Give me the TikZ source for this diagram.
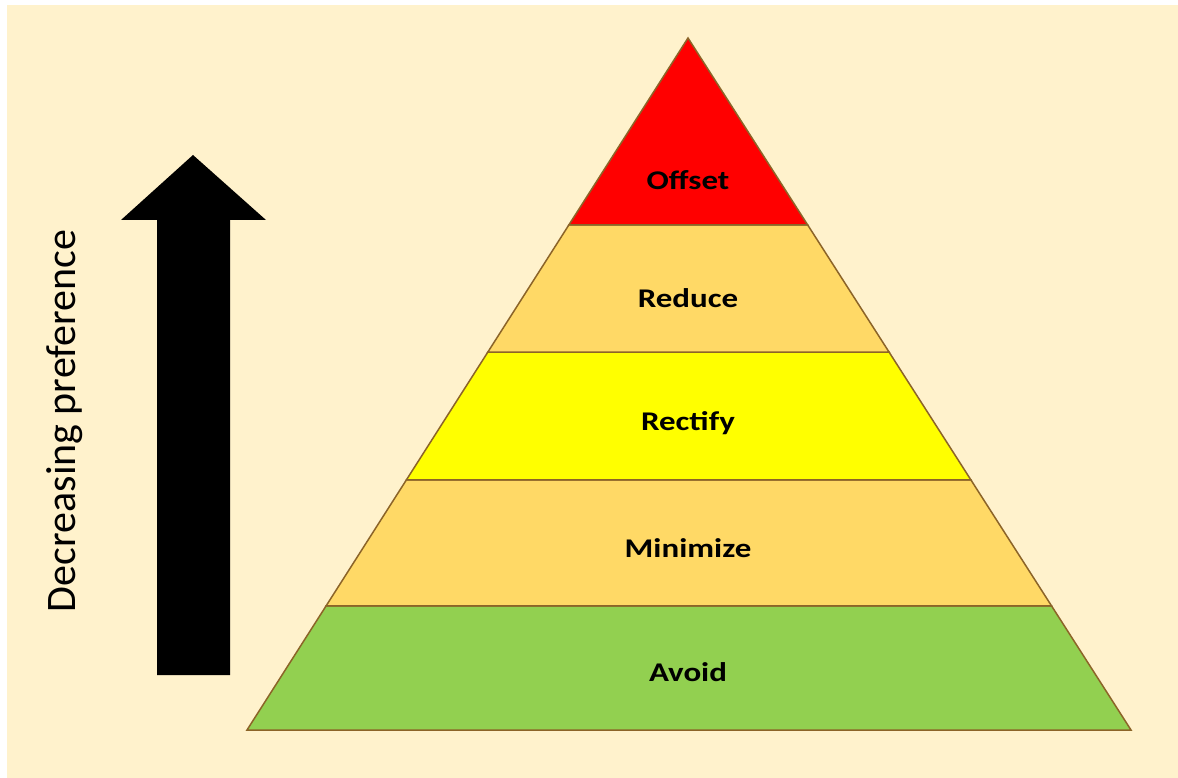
\documentclass[tikz,border=0pt]{standalone}
\usepackage{fontspec}
\setmainfont{Carlito}
\usetikzlibrary{calc}
\definecolor{bgcream}{HTML}{FFF2CC}
\definecolor{lred}{HTML}{FF0000}
\definecolor{lorange}{HTML}{FFD966}
\definecolor{lyellow}{HTML}{FFFF00}
\definecolor{lgreen}{HTML}{92D050}
\definecolor{edgebrown}{RGB}{140,100,40}
\tikzset{
  layer/.style={draw=edgebrown, line width=1.5pt, line join=miter},
  lbl/.style={font=\fontsize{27}{30}\selectfont\bfseries, text=black, inner sep=0pt},
}
\newcommand{\wlbl}[1]{\scalebox{1.22}[1]{#1}}
\begin{document}
\begin{tikzpicture}[x=1pt,y=-1pt]
\useasboundingbox (0,0) rectangle (1178,778);
\fill[white] (0,0) rectangle (1178,778);
\fill[bgcream] (7,5) rectangle (1178,778);
% pyramid geometry
\coordinate (apex) at (688,38);
\coordinate (bl) at (247,730);
\coordinate (br) at (1131,730);
\coordinate (l1) at ($(apex)!0.2702!(bl)$);
\coordinate (r1) at ($(apex)!0.2702!(br)$);
\coordinate (l2) at ($(apex)!0.4538!(bl)$);
\coordinate (r2) at ($(apex)!0.4538!(br)$);
\coordinate (l3) at ($(apex)!0.6387!(bl)$);
\coordinate (r3) at ($(apex)!0.6387!(br)$);
\coordinate (l4) at ($(apex)!0.8208!(bl)$);
\coordinate (r4) at ($(apex)!0.8208!(br)$);
% layers
\filldraw[layer, fill=lgreen] (l4) -- (r4) -- (br) -- (bl) -- cycle;
\filldraw[layer, fill=lorange] (l3) -- (r3) -- (r4) -- (l4) -- cycle;
\filldraw[layer, fill=lyellow] (l2) -- (r2) -- (r3) -- (l3) -- cycle;
\filldraw[layer, fill=lorange] (l1) -- (r1) -- (r2) -- (l2) -- cycle;
\filldraw[layer, fill=lred] (apex) -- (r1) -- (l1) -- cycle;
% labels
\node[lbl] (offset) at (688,180) {\wlbl{Offset}};
\node[lbl] (reduce) at (688,298) {\wlbl{Reduce}};
\node[lbl] (rectify) at (688,423) {\wlbl{Rectify}};
\node[lbl] (minimize) at (688,548) {\wlbl{Minimize}};
\node[lbl] (avoid) at (688,672) {\wlbl{Avoid}};
% arrow
\fill[black] (157,675) -- (230,675) -- (230,220) -- (266,220) -- (193,155) -- (121,220) -- (157,220) -- cycle;
\node[rotate=90, anchor=base, inner sep=0pt, font=\fontsize{42}{46}\selectfont] (pref) at (75,421) {Decreasing preference};
\end{tikzpicture}
\end{document}
